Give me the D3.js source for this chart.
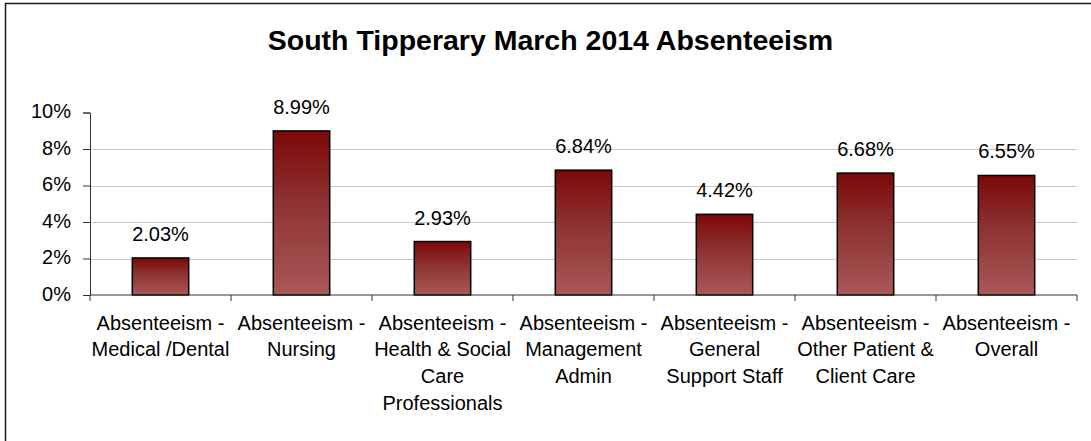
<!DOCTYPE html>
<html>
<head>
<meta charset="utf-8">
<script src="https://cdn.jsdelivr.net/npm/d3@7"></script>
<style>
  html, body { margin: 0; padding: 0; background: #fff; }
  svg { display: block; }
  text { font-family: "Liberation Sans", Arial, sans-serif; fill: #000; }
</style>
</head>
<body>
<svg id="chart" width="1091" height="441"></svg>
<script>
// Absenteeism rates (%) by staff category
const categories = [
  "Absenteeism -\nMedical /Dental",
  "Absenteeism -\nNursing",
  "Absenteeism -\nHealth & Social\nCare\nProfessionals",
  "Absenteeism -\nManagement\nAdmin",
  "Absenteeism -\nGeneral\nSupport Staff",
  "Absenteeism -\nOther Patient &\nClient Care",
  "Absenteeism -\nOverall"
];
const values = [2.03, 8.99, 2.93, 6.84, 4.42, 6.68, 6.55];
const yTicks = [0, 2, 4, 6, 8, 10];
const title = "South Tipperary March 2014 Absenteeism";

const svg = d3.select("#chart");
const plot = { left: 90, right: 1077, top: 112.5, bottom: 295 };
const labelSize = 20;

// outer chart frame (runs past the right and bottom edges)
svg.append("rect")
  .attr("x", 5.5).attr("y", 3.5)
  .attr("width", 1200).attr("height", 600)
  .attr("fill", "#fff").attr("stroke", "#1a1a1a").attr("stroke-width", 1.5);

// title
svg.append("text")
  .attr("x", 550.5).attr("y", 49.5)
  .attr("text-anchor", "middle")
  .attr("font-size", 28.5).attr("font-weight", "bold")
  .text(title);

const x = d3.scaleBand()
  .domain(categories)
  .range([plot.left, plot.right])
  .paddingInner(0.6).paddingOuter(0.3);

const y = d3.scaleLinear()
  .domain([0, 10])
  .range([plot.bottom, plot.top]);

// bar fill gradient
const defs = svg.append("defs");
const grad = defs.append("linearGradient")
  .attr("id", "barGrad").attr("x1", 0).attr("y1", 0).attr("x2", 0).attr("y2", 1);
grad.append("stop").attr("offset", "0%").attr("stop-color", "#7c0808");
grad.append("stop").attr("offset", "45%").attr("stop-color", "#8e3333");
grad.append("stop").attr("offset", "100%").attr("stop-color", "#a95858");

// horizontal gridlines
svg.append("g")
  .selectAll("line")
  .data(yTicks.filter(t => t > 0 && t < 10))
  .join("line")
  .attr("x1", plot.left).attr("x2", plot.right)
  .attr("y1", d => Math.round(y(d)) + 0.5).attr("y2", d => Math.round(y(d)) + 0.5)
  .attr("stroke", "#c8c8c8").attr("stroke-width", 1);

// y axis
const yAxis = d3.axisLeft(y)
  .tickValues(yTicks)
  .tickFormat(d => d + "%")
  .tickSize(7).tickPadding(12);
const yg = svg.append("g")
  .attr("transform", `translate(${plot.left},0)`)
  .call(yAxis);
yg.select(".domain").attr("stroke", "#333");
yg.selectAll(".tick line").attr("stroke", "#333");
yg.selectAll(".tick text")
  .attr("font-size", labelSize)
  .attr("font-family", "Liberation Sans, Arial, sans-serif")
  .attr("fill", "#000")
  .attr("dy", "0.27em");

// bars
svg.append("g")
  .selectAll("rect")
  .data(values)
  .join("rect")
  .attr("x", (d, i) => x(categories[i]))
  .attr("y", d => y(d))
  .attr("width", x.bandwidth())
  .attr("height", d => y(0) - y(d))
  .attr("fill", "url(#barGrad)")
  .attr("stroke", "#000").attr("stroke-width", 1.5);

// value labels
svg.append("g")
  .selectAll("text")
  .data(values)
  .join("text")
  .attr("x", (d, i) => x(categories[i]) + x.bandwidth() / 2)
  .attr("y", d => y(d) - 17)
  .attr("text-anchor", "middle")
  .attr("font-size", labelSize)
  .text(d => d.toFixed(2) + "%");

// x axis baseline and category separators
const step = (plot.right - plot.left) / categories.length;
const xg = svg.append("g");
xg.append("line")
  .attr("x1", plot.left).attr("x2", plot.right)
  .attr("y1", plot.bottom).attr("y2", plot.bottom)
  .attr("stroke", "#333");
xg.selectAll("line.sep")
  .data(d3.range(categories.length + 1))
  .join("line")
  .attr("class", "sep")
  .attr("x1", i => plot.left + i * step).attr("x2", i => plot.left + i * step)
  .attr("y1", plot.bottom).attr("y2", plot.bottom + 6)
  .attr("stroke", "#333");

// category labels, one row per line
const cat = svg.append("g")
  .selectAll("text")
  .data(categories)
  .join("text")
  .attr("text-anchor", "middle")
  .attr("font-size", labelSize)
  .attr("transform", d => `translate(${x(d) + x.bandwidth() / 2},329.5)`);
cat.selectAll("tspan")
  .data(d => d.split("\n"))
  .join("tspan")
  .attr("x", 0)
  .attr("y", (d, i) => i * 26.9)
  .text(d => d);
</script>
</body>
</html>
